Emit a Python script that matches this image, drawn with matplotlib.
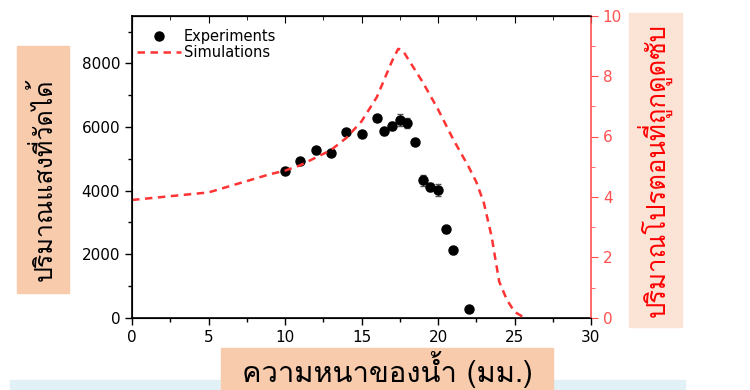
import matplotlib
matplotlib.use('Agg')
import matplotlib.pyplot as plt
from matplotlib import font_manager
from matplotlib.ft2font import FT2Font
from matplotlib.lines import Line2D
from matplotlib.ticker import MultipleLocator

# ข้อมูลการทดลอง
exp_x = [10, 11, 12, 13, 14, 15, 16, 16.5, 17, 17.5, 18, 18.5, 19, 19.5, 20, 20.5, 21, 22]
exp_y = [4610, 4940, 5270, 5190, 5840, 5790, 6280, 5860, 6040, 6220, 6120, 5530, 4320, 4110, 4020, 2790, 2120, 270]
exp_err = [100, 90, 110, 100, 100, 90, 90, 120, 130, 190, 150, 100, 180, 130, 180, 110, 100, 100]

# ผลการจำลอง (แกนขวา)
sim_x = [0, 2, 4, 5, 6, 7, 8, 9, 10, 11, 12, 13, 14, 15, 16, 16.5, 17, 17.4, 17.7, 18, 18.5, 19, 20, 21, 22, 22.5, 23, 23.5, 24, 24.5, 25, 25.6]
sim_y = [3.9, 4.0, 4.1, 4.15, 4.3, 4.45, 4.6, 4.75, 4.87, 5.05, 5.3, 5.55, 5.95, 6.5, 7.3, 7.9, 8.5, 8.9, 8.85, 8.6, 8.2, 7.8, 6.9, 5.9, 5.0, 4.5, 3.8, 2.7, 1.2, 0.6, 0.2, 0.02]

xlabel = 'ความหนาของน้ำ (มม.)'
ylabel_left = 'ปริมาณแสงที่วัดได้'
ylabel_right = 'ปริมาณโปรตอนที่ถูกดูดซับ'


def find_thai_font():
    for f in font_manager.fontManager.ttflist:
        try:
            if 0x0E1B in FT2Font(f.fname).get_charmap():
                return f.name
        except Exception:
            pass
    return 'DejaVu Sans'


thai = find_thai_font()
plt.rcParams['font.family'] = ['DejaVu Sans']

fig = plt.figure(figsize=(7.5, 3.9), dpi=100)


def box(x0, y0, x1, y1, color):
    # กล่องพื้นหลังของป้ายชื่อแกน (พิกัดเป็นสัดส่วนของรูป)
    fig.patches.append(plt.Rectangle((x0, y0), x1 - x0, y1 - y0, transform=fig.transFigure,
                                     color=color, zorder=0))


# แถบสีฟ้าอ่อนด้านล่าง
box(0.013, 0.0, 0.913, 0.026, '#e2f1f6')
box(0.0227, 0.249, 0.092, 0.882, '#f8cbad')
box(0.8387, 0.1615, 0.9093, 0.9667, '#fbe4d6')
box(0.2947, 0.0, 0.7373, 0.1077, '#f8cbad')

ax = fig.add_axes([0.176, 0.185, 0.612, 0.775])
ax2 = ax.twinx()

ax.errorbar(exp_x, exp_y, yerr=exp_err, fmt='o', color='black', ms=6.5,
            ecolor='#555555', elinewidth=0.8, capsize=2.5, zorder=3)
ax2.plot(sim_x, sim_y, '--', color='#ff3333', lw=1.8, dashes=(3, 2.2))

ax.set_xlim(0, 30)
ax.set_ylim(0, 9500)
ax2.set_ylim(0, 10)

ax.xaxis.set_major_locator(MultipleLocator(5))
ax.xaxis.set_minor_locator(MultipleLocator(2.5))
ax.yaxis.set_major_locator(MultipleLocator(2000))
ax.yaxis.set_minor_locator(MultipleLocator(1000))
ax2.yaxis.set_major_locator(MultipleLocator(2))
ax2.yaxis.set_minor_locator(MultipleLocator(1))

ax.tick_params(axis='both', which='both', direction='out', labelsize=11, width=1)
ax.tick_params(which='major', length=5)
ax.tick_params(which='minor', length=3)
ax.spines['right'].set_visible(False)
for s in ['left', 'bottom', 'top']:
    ax.spines[s].set_linewidth(1.2)

top = ax.secondary_xaxis('top')
top.xaxis.set_major_locator(MultipleLocator(5))
top.xaxis.set_minor_locator(MultipleLocator(2.5))
top.tick_params(which='both', direction='in', labeltop=False)
top.tick_params(which='major', length=5)
top.tick_params(which='minor', length=3)

red = '#ff5050'
ax2.spines['right'].set_color(red)
ax2.spines['right'].set_linewidth(1.2)
ax2.tick_params(axis='y', which='both', colors=red, direction='out', labelsize=11)
ax2.tick_params(which='major', length=5)
ax2.tick_params(which='minor', length=3)

handles = [Line2D([], [], ls='none', marker='o', color='black', ms=6.5),
           Line2D([], [], ls='--', color='#ff3333', lw=1.8, dashes=(3, 2.2))]
ax.legend(handles, ['Experiments', 'Simulations'], loc='upper left', frameon=False,
          fontsize=10.5, handlelength=3.0, handletextpad=0.2, labelspacing=0.1,
          bbox_to_anchor=(-0.018, 1.0))

fig.text(0.0573, 0.538, ylabel_left, rotation=90, ha='center', va='center', fontsize=18,
         family=[thai, 'DejaVu Sans'], color='black')
fig.text(0.872, 0.564, ylabel_right, rotation=90, ha='center', va='center', fontsize=18.5,
         family=[thai, 'DejaVu Sans'], color='#ff0000')
fig.text(0.516, 0.053, xlabel, ha='center', va='center', fontsize=21,
         family=[thai, 'DejaVu Sans'], color='black')

fig.savefig('out.png', dpi=100)
